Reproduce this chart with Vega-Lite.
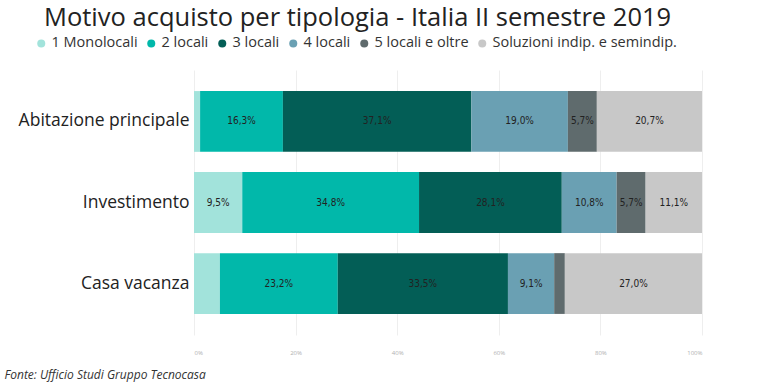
{
  "$schema": "https://vega.github.io/schema/vega-lite/v6.json",
  "width": 508,
  "height": 265,
  "autosize": {"type": "none"},
  "padding": {"left": 194, "top": 70, "right": 78, "bottom": 47},
  "background": "white",
  "title": {
    "text": "Motivo acquisto per tipologia - Italia II semestre 2019",
    "anchor": "start",
    "frame": "group",
    "dx": -150,
    "fontSize": 25.5,
    "font": "Open Sans",
    "fontWeight": "normal",
    "color": "#222222",
    "offset": 5
  },
  "data": {
    "values": [
      {"motivo": "Abitazione principale", "tipologia": "1 Monolocali", "ord": 1, "value": 1.2},
      {"motivo": "Abitazione principale", "tipologia": "2 locali", "ord": 2, "value": 16.3},
      {"motivo": "Abitazione principale", "tipologia": "3 locali", "ord": 3, "value": 37.1},
      {"motivo": "Abitazione principale", "tipologia": "4 locali", "ord": 4, "value": 19.0},
      {"motivo": "Abitazione principale", "tipologia": "5 locali e oltre", "ord": 5, "value": 5.7},
      {"motivo": "Abitazione principale", "tipologia": "Soluzioni indip. e semindip.", "ord": 6, "value": 20.7},
      {"motivo": "Investimento", "tipologia": "1 Monolocali", "ord": 1, "value": 9.5},
      {"motivo": "Investimento", "tipologia": "2 locali", "ord": 2, "value": 34.8},
      {"motivo": "Investimento", "tipologia": "3 locali", "ord": 3, "value": 28.1},
      {"motivo": "Investimento", "tipologia": "4 locali", "ord": 4, "value": 10.8},
      {"motivo": "Investimento", "tipologia": "5 locali e oltre", "ord": 5, "value": 5.7},
      {"motivo": "Investimento", "tipologia": "Soluzioni indip. e semindip.", "ord": 6, "value": 11.1},
      {"motivo": "Casa vacanza", "tipologia": "1 Monolocali", "ord": 1, "value": 5.1},
      {"motivo": "Casa vacanza", "tipologia": "2 locali", "ord": 2, "value": 23.2},
      {"motivo": "Casa vacanza", "tipologia": "3 locali", "ord": 3, "value": 33.5},
      {"motivo": "Casa vacanza", "tipologia": "4 locali", "ord": 4, "value": 9.1},
      {"motivo": "Casa vacanza", "tipologia": "5 locali e oltre", "ord": 5, "value": 2.1},
      {"motivo": "Casa vacanza", "tipologia": "Soluzioni indip. e semindip.", "ord": 6, "value": 27.0}
    ]
  },
  "transform": [
    {"stack": "value", "groupby": ["motivo"], "sort": [{"field": "ord", "order": "ascending"}], "as": ["x0", "x1"]},
    {"calculate": "(datum.x0 + datum.x1) / 2", "as": "xm"},
    {"calculate": "format(datum.value, '.1f') + '%'", "as": "label"}
  ],
  "encoding": {
    "y": {
      "field": "motivo",
      "type": "nominal",
      "sort": ["Abitazione principale", "Investimento", "Casa vacanza"],
      "scale": {"paddingInner": 0.25, "paddingOuter": 0.26},
      "axis": {
        "title": null,
        "domain": false,
        "ticks": false,
        "labelFontSize": 17.5,
        "labelFont": "Open Sans",
        "labelColor": "#222222",
        "labelPadding": 5,
        "labelLimit": 300
      }
    }
  },
  "layer": [
    {
      "mark": {"type": "bar"},
      "encoding": {
        "x": {
          "field": "x0",
          "type": "quantitative",
          "scale": {"domain": [0, 100], "nice": false},
          "axis": {
            "values": [0, 20, 40, 60, 80, 100],
            "labelExpr": "datum.value + '%'",
            "labelFontSize": 6,
            "labelColor": "#b0b0b0",
            "labelFont": "Open Sans",
            "labelPadding": 14,
            "domain": false,
            "ticks": false,
            "grid": true,
            "gridColor": "#eeeeee",
            "gridWidth": 1,
            "title": "Fonte: Ufficio Studi Gruppo Tecnocasa",
            "titleFont": "Open Sans",
            "titleFontStyle": "italic",
            "titleFontWeight": "normal",
            "titleFontSize": 12,
            "titleColor": "#333333",
            "titleAnchor": "start",
            "titleAlign": "left",
            "titleBaseline": "top",
            "titleX": -190,
            "titleY": 34
          }
        },
        "x2": {"field": "x1"},
        "color": {
          "field": "tipologia",
          "type": "nominal",
          "sort": ["1 Monolocali", "2 locali", "3 locali", "4 locali", "5 locali e oltre", "Soluzioni indip. e semindip."],
          "scale": {
            "domain": ["1 Monolocali", "2 locali", "3 locali", "4 locali", "5 locali e oltre", "Soluzioni indip. e semindip."],
            "range": ["#A2E3DB", "#01B8AA", "#035E56", "#6AA0B3", "#5F6B6D", "#C8C8C8"]
          },
          "legend": {
            "orient": "none",
            "direction": "horizontal",
            "legendX": -160,
            "legendY": -34,
            "title": null,
            "symbolType": "circle",
            "symbolSize": 64,
            "symbolStrokeWidth": 0,
            "labelFontSize": 14.5,
            "labelFont": "Open Sans",
            "labelColor": "#333333",
            "labelOffset": 3,
            "columnPadding": 6,
            "labelLimit": 300
          }
        }
      }
    },
    {
      "transform": [{"filter": "datum.value >= 5.5"}],
      "mark": {"type": "text", "fontSize": 10, "font": "DejaVu Sans Condensed", "color": "#222222"},
      "encoding": {
        "x": {"field": "xm", "type": "quantitative"},
        "text": {"field": "label", "type": "nominal"}
      }
    }
  ],
  "config": {
    "view": {"stroke": null},
    "locale": {"number": {"decimal": ",", "thousands": ".", "grouping": [3], "currency": ["€", ""]}}
  }
}
